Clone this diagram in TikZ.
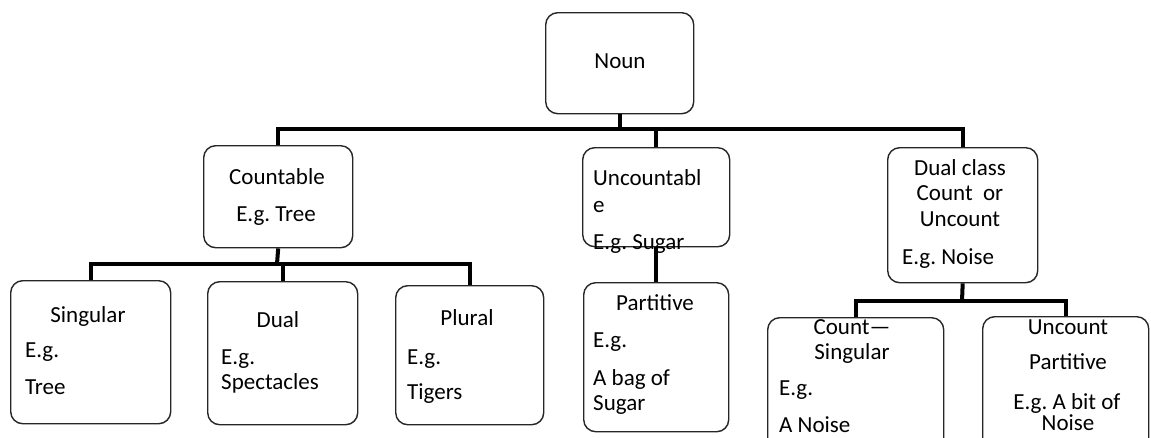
\documentclass[tikz,border=0pt]{standalone}
\usepackage{fontspec}
\setmainfont{Carlito}
\frenchspacing
\begin{document}
\begin{tikzpicture}[x=1pt,y=-1pt,
  box/.style={draw=black!85, line width=1.4pt, rounded corners=12pt, fill=white,
    inner sep=0pt, anchor=north west},
  conn/.style={draw=black, line width=4pt},
  txt/.style={inner sep=0pt, font=\fontsize{23}{25}\selectfont\frenchspacing, text=black},
  tc/.style={txt, anchor=base},
  tl/.style={txt, anchor=base west}]
\clip (0,0) rectangle (1151,437);
\fill[white] (0,0) rectangle (1151,437);
% connector junctions
\coordinate (nb) at (619,129);
\coordinate (cb) at (277,264);
\coordinate (db) at (962,301);
% boxes
\node[box, minimum width=148pt, minimum height=101pt] (noun) at (545,12) {};
\node[box, minimum width=149pt, minimum height=102pt] (countable) at (203,145) {};
\node[box, minimum width=147pt, minimum height=99pt] (uncountable) at (582,147) {};
\node[box, minimum width=150pt, minimum height=135pt] (dualclass) at (887,147) {};
\node[box, minimum width=160pt, minimum height=143pt] (singular) at (10,280) {};
\node[box, minimum width=150pt, minimum height=143pt] (dual) at (207,281) {};
\node[box, minimum width=148pt, minimum height=139pt] (plural) at (395,285) {};
\node[box, minimum width=145pt, minimum height=149pt] (partitive) at (583,282) {};
\node[box, minimum width=176pt, minimum height=140pt] (countsing) at (767,317) {};
\node[box, minimum width=166pt, minimum height=140pt] (uncountpart) at (982,316) {};
% connectors
\draw[conn] (noun.south) -- (noun.south |- nb);
\draw[conn] (countable.north) |- (nb) -| (dualclass.north);
\draw[conn] (uncountable.north |- nb) -- (uncountable.north);
\draw[conn] (countable.south) -- (cb);
\draw[conn] (singular.north) |- (cb) -| (plural.north);
\draw[conn] (dual.north |- cb) -- (dual.north);
\draw[conn] (uncountable.south) -- (partitive.north);
\draw[conn] (dualclass.south) -- (db);
\draw[conn] (countsing.north) |- (db) -| (uncountpart.north);
% texts
\node[tc] (t1) at (620,68) {Noun};
\node[tc] (t2) at (277,184) {Countable};
\node[tc] (t3) at (276,221) {E.g. Tree};
\node[tl] (t4) at (593,185) {Uncountabl};
\node[tl] (t5) at (593,212) {e};
\node[tl] (t6) at (593,249) {E.g. Sugar};
\node[tc] (t7) at (960,175) {Dual class};
\node[tc] (t8) at (960,200) {Count\ \ or};
\node[tc] (t9) at (960,226) {Uncount};
\node[tl] (t10) at (902,264) {E.g. Noise};
\node[tc] (t11) at (88,322) {Singular};
\node[tl] (t12) at (25,357) {E.g.};
\node[tl] (t13) at (25,394) {Tree};
\node[tc] (t14) at (278,327) {Dual};
\node[tl] (t15) at (221,364) {E.g.};
\node[tl] (t16) at (221,389) {Spectacles};
\node[tc] (t17) at (467,325) {Plural};
\node[tl] (t18) at (407,364) {E.g.};
\node[tl] (t19) at (407,399) {Tigers};
\node[tc] (t20) at (655,310) {Partitive};
\node[tl] (t21) at (593,347) {E.g.};
\node[tl] (t22) at (593,385) {A bag of};
\node[tl] (t23) at (593,410) {Sugar};
\node[tc] (t24) at (852,334) {Count—};
\node[tc] (t25) at (852,359) {Singular};
\node[tl] (t26) at (779,395) {E.g.};
\node[tl] (t27) at (779,432) {A Noise};
\node[tc] (t28) at (1068,334) {Uncount};
\node[tc] (t29) at (1068,369) {Partitive};
\node[tc] (t30) at (1067,409) {E.g. A bit of};
\node[tc] (t31) at (1068,430) {Noise};
\end{tikzpicture}
\end{document}
